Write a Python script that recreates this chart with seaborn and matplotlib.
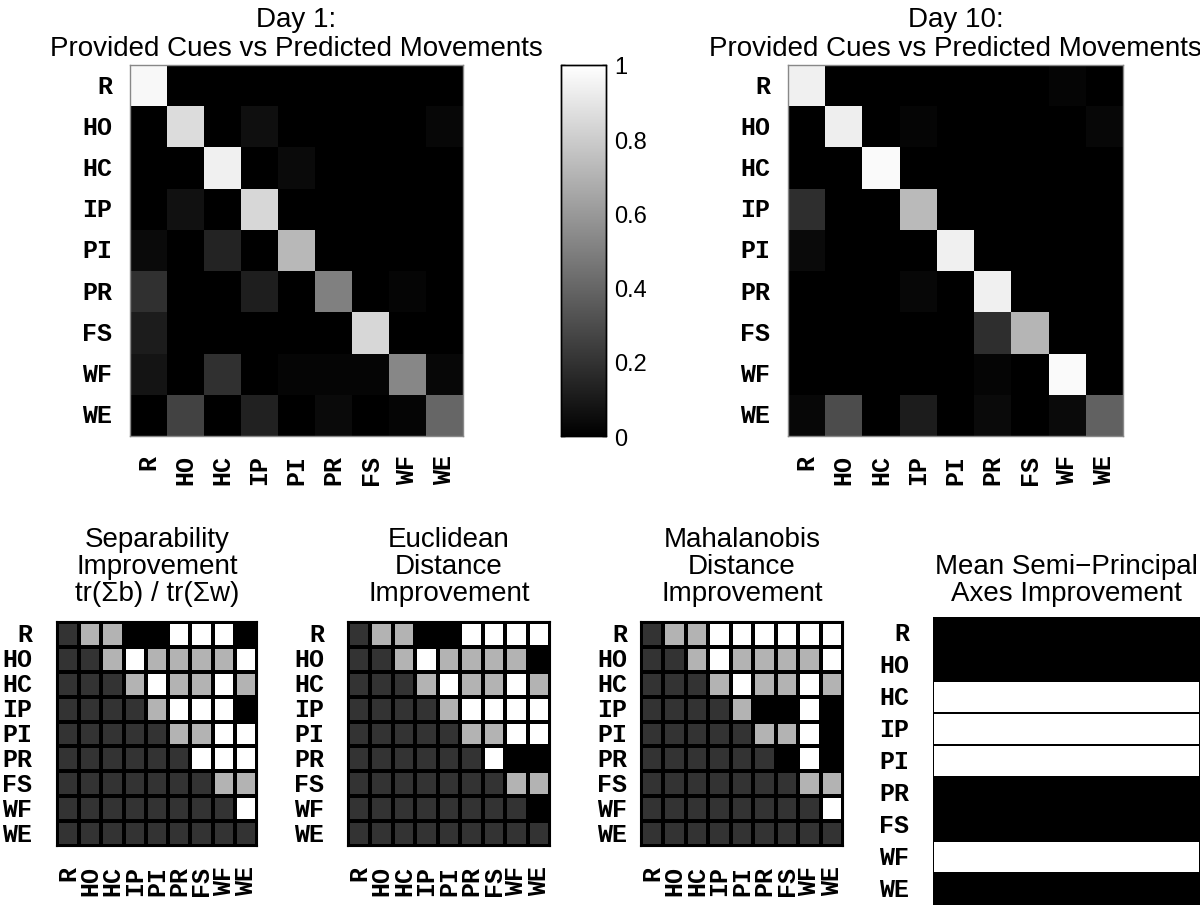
import numpy as np
import matplotlib
matplotlib.use("Agg")
import matplotlib.pyplot as plt
import seaborn as sns
from matplotlib.colors import ListedColormap

labels = ["R", "HO", "HC", "IP", "PI", "PR", "FS", "WF", "WE"]

# confusion matrices (rows = provided cue, cols = predicted movement)
day1 = [
    [0.97, 0.00, 0.00, 0.00, 0.00, 0.00, 0.00, 0.00, 0.00],
    [0.00, 0.86, 0.00, 0.06, 0.00, 0.00, 0.00, 0.00, 0.03],
    [0.00, 0.00, 0.94, 0.00, 0.04, 0.00, 0.00, 0.00, 0.00],
    [0.00, 0.07, 0.00, 0.84, 0.00, 0.00, 0.00, 0.00, 0.00],
    [0.04, 0.00, 0.14, 0.00, 0.72, 0.00, 0.00, 0.00, 0.00],
    [0.19, 0.00, 0.00, 0.12, 0.00, 0.50, 0.00, 0.02, 0.00],
    [0.11, 0.00, 0.00, 0.00, 0.00, 0.00, 0.84, 0.00, 0.00],
    [0.08, 0.00, 0.19, 0.00, 0.02, 0.02, 0.02, 0.53, 0.03],
    [0.00, 0.26, 0.00, 0.13, 0.00, 0.04, 0.00, 0.02, 0.40],
]
day10 = [
    [0.94, 0.00, 0.00, 0.00, 0.00, 0.00, 0.00, 0.02, 0.00],
    [0.00, 0.93, 0.00, 0.02, 0.00, 0.00, 0.00, 0.00, 0.03],
    [0.00, 0.00, 0.98, 0.00, 0.00, 0.00, 0.00, 0.00, 0.00],
    [0.18, 0.00, 0.00, 0.73, 0.00, 0.00, 0.00, 0.00, 0.00],
    [0.04, 0.00, 0.00, 0.00, 0.94, 0.00, 0.00, 0.00, 0.00],
    [0.00, 0.00, 0.00, 0.03, 0.00, 0.94, 0.00, 0.00, 0.00],
    [0.00, 0.00, 0.00, 0.00, 0.00, 0.18, 0.71, 0.00, 0.00],
    [0.00, 0.00, 0.00, 0.00, 0.00, 0.02, 0.00, 0.98, 0.00],
    [0.03, 0.30, 0.00, 0.11, 0.00, 0.04, 0.00, 0.04, 0.38],
]

# pairwise improvement codes: 0 = worse (black), 1 = n/a (dark), 2 = n.s. (gray), 3 = better (white)
separability = [
    [1, 2, 2, 0, 0, 3, 3, 3, 0],
    [1, 1, 2, 3, 2, 2, 2, 2, 3],
    [1, 1, 1, 2, 3, 2, 2, 3, 2],
    [1, 1, 1, 1, 2, 3, 3, 3, 0],
    [1, 1, 1, 1, 1, 2, 2, 3, 3],
    [1, 1, 1, 1, 1, 1, 3, 3, 3],
    [1, 1, 1, 1, 1, 1, 1, 2, 2],
    [1, 1, 1, 1, 1, 1, 1, 1, 3],
    [1, 1, 1, 1, 1, 1, 1, 1, 1],
]
euclidean = [
    [1, 2, 2, 0, 0, 3, 3, 3, 3],
    [1, 1, 2, 3, 2, 2, 2, 2, 0],
    [1, 1, 1, 2, 3, 2, 2, 3, 2],
    [1, 1, 1, 1, 2, 3, 3, 3, 3],
    [1, 1, 1, 1, 1, 2, 2, 3, 3],
    [1, 1, 1, 1, 1, 1, 3, 0, 0],
    [1, 1, 1, 1, 1, 1, 1, 2, 2],
    [1, 1, 1, 1, 1, 1, 1, 1, 0],
    [1, 1, 1, 1, 1, 1, 1, 1, 1],
]
mahalanobis = [
    [1, 2, 2, 3, 3, 3, 3, 3, 3],
    [1, 1, 2, 3, 2, 2, 2, 2, 3],
    [1, 1, 1, 2, 3, 2, 2, 3, 2],
    [1, 1, 1, 1, 2, 0, 0, 3, 0],
    [1, 1, 1, 1, 1, 2, 2, 3, 0],
    [1, 1, 1, 1, 1, 1, 0, 3, 0],
    [1, 1, 1, 1, 1, 1, 1, 2, 2],
    [1, 1, 1, 1, 1, 1, 1, 1, 3],
    [1, 1, 1, 1, 1, 1, 1, 1, 1],
]
axes_improved = [0, 0, 1, 1, 1, 0, 0, 1, 0]

sns.set_style("white")
plt.rcParams["font.family"] = ["Liberation Sans", "DejaVu Sans"]
plt.rcParams["text.color"] = "black"
plt.rcParams["xtick.color"] = "black"
plt.rcParams["ytick.color"] = "black"
plt.rcParams["axes.labelcolor"] = "black"
mono = dict(fontfamily="Liberation Mono", fontweight="bold", fontsize=18, color="black")

fig = plt.figure(figsize=(12, 9.12), dpi=100)
W, H = 1200, 912


def add_ax(x0, y0, x1, y1):
    return fig.add_axes([x0 / W, 1 - y1 / H, (x1 - x0) / W, (y1 - y0) / H])


def fix_ticks(ax, xlabels=True, pad=13):
    ax.tick_params(length=0, pad=pad)
    ax.set_yticklabels(labels, rotation=0, **mono)
    if xlabels:
        ax.set_xticklabels(labels, rotation=90, va="top", ha="center", **mono)
    else:
        ax.set_xticks([])
    ax.set_xlabel("")
    ax.set_ylabel("")


# ---- top row: confusion matrices
ax1 = add_ax(130, 66, 463, 437)
cax = add_ax(561, 66, 606, 437)
ax2 = add_ax(788, 66, 1123, 437)

sns.heatmap(np.array(day1), ax=ax1, cmap="gray", vmin=0, vmax=1, cbar_ax=cax,
            xticklabels=labels, yticklabels=labels)
sns.heatmap(np.array(day10), ax=ax2, cmap="gray", vmin=0, vmax=1, cbar=False,
            xticklabels=labels, yticklabels=labels)
for ax in (ax1, ax2):
    fix_ticks(ax)
    for s in ax.spines.values():
        s.set_visible(True)
        s.set_color("#888888")
        s.set_linewidth(1)

cax.set_yticks([0, 0.2, 0.4, 0.6, 0.8, 1])
cax.set_yticklabels(["0", "0.2", "0.4", "0.6", "0.8", "1"], fontsize=17, color="black")
cax.tick_params(direction="in", left=True, right=True, length=3, width=1, pad=6, color="black")
for s in cax.spines.values():
    s.set_visible(True)
    s.set_color("black")
    s.set_linewidth(1)

ax1.set_title("Day 1:\nProvided Cues vs Predicted Movements", fontsize=20, pad=7, linespacing=1.15)
ax2.set_title("Day 10:\nProvided Cues vs Predicted Movements", fontsize=20, pad=7, linespacing=1.15)

# ---- bottom row: pairwise improvement maps
codes = ListedColormap(["black", "#333333", "#b3b3b3", "white"])
panels = [
    (separability, (57, 623, 257, 847), "Separability\nImprovement\ntr(Σb) / tr(Σw)", 18),
    (euclidean, (348, 623, 550, 847), "Euclidean\nDistance\nImprovement", 17),
    (mahalanobis, (641, 623, 843, 847), "Mahalanobis\nDistance\nImprovement", 10),
]
for mat, box, title, ypad in panels:
    ax = add_ax(*box)
    sns.heatmap(np.array(mat), ax=ax, cmap=codes, vmin=-0.5, vmax=3.5, cbar=False,
                linewidths=1.5, linecolor="black", xticklabels=labels, yticklabels=labels)
    fix_ticks(ax, pad=ypad)
    ax.tick_params(axis="x", pad=14)
    for s in ax.spines.values():
        s.set_visible(True)
        s.set_color("black")
        s.set_linewidth(1.5)
    ax.set_title(title, fontsize=20, pad=16, linespacing=1.05)

ax4 = add_ax(933, 618, 1200, 906)
sns.heatmap(np.array(axes_improved).reshape(-1, 1), ax=ax4, cmap="gray", vmin=0, vmax=1,
            cbar=False, linewidths=1.2, linecolor="black", xticklabels=False, yticklabels=labels)
fix_ticks(ax4, xlabels=False, pad=17)
ax4.set_title("Mean Semi\u2212Principal\nAxes Improvement", fontsize=20, pad=12, linespacing=1.05)

fig.savefig("out.png", dpi=100)
